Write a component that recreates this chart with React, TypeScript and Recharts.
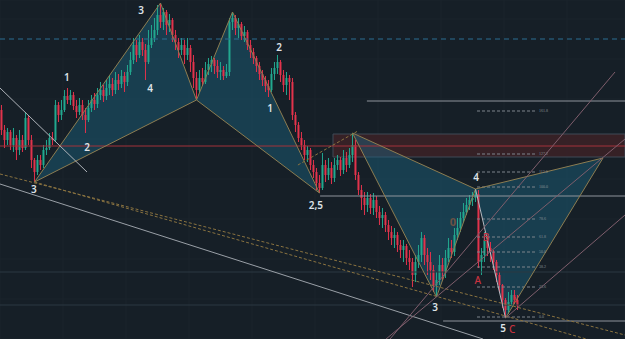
import React from "react";
import {
  ComposedChart, Bar, Area, Line, Scatter, XAxis, YAxis,
  ReferenceLine, ReferenceArea, CartesianGrid,
} from "recharts";

const BG = "#161f27";
const UP = "#22a88f";
const DOWN = "#e2334c";
const GOLD = "#8d7d51";
const FILL = "#1c6887";
const GREY = "#8e949c";
const DIM = "#2b3943";
const MAUVE = "#7f5e6c";
const XMAX = 625 / 3;

// candles: open = previous close
const firstOpen = 229;
const closes = [
  209, 199, 207, 194, 201, 189, 199, 191, 221, 199,
  179, 167, 179, 174, 189, 191, 201, 199, 234, 224,
  229, 243, 239, 244, 233, 227, 234, 224, 219, 231,
  239, 235, 244, 249, 243, 251, 255, 249, 259, 255,
  263, 257, 267, 279, 294, 284, 297, 289, 277, 294,
  301, 309, 324, 317, 327, 314, 319, 304, 297, 289,
  294, 284, 291, 277, 261, 249, 261, 257, 269, 275,
  279, 273, 267, 269, 263, 267, 317, 321, 311, 315,
  303, 307, 294, 287, 281, 273, 265, 259, 253, 249,
  265, 271, 277, 264, 254, 261, 257, 224, 214, 201,
  194, 184, 189, 174, 167, 156, 151, 174, 164, 171,
  161, 174, 179, 169, 181, 174, 184, 194, 164, 149,
  141, 134, 141, 131, 139, 127, 121, 124, 114, 107,
  101, 104, 94, 89, 93, 81, 77, 64, 77, 84,
  101, 84, 77, 69, 54, 59, 74, 67, 81, 91,
  87, 104, 111, 121, 127, 134, 139, 141, 145, 77,
  84, 99, 91, 87, 77, 64, 54, 39, 29, 37,
  44, 39, 33,
];
const highs = [
  234, 214, 211, 209, 211, 204, 209, 204, 227, 224,
  204, 181, 184, 184, 194, 199, 206, 207, 239, 237,
  239, 249, 251, 249, 247, 239, 241, 239, 231, 239,
  244, 246, 251, 257, 254, 259, 264, 261, 267, 265,
  269, 267, 274, 287, 301, 299, 304, 301, 295, 309,
  314, 321, 334, 336, 331, 329, 325, 321, 309, 301,
  301, 299, 301, 294, 284, 267, 269, 271, 277, 281,
  283, 281, 279, 277, 273, 275, 321, 327, 324, 321,
  317, 313, 309, 299, 291, 283, 277, 269, 263, 259,
  271, 277, 284, 279, 269, 267, 264, 261, 227, 217,
  207, 199, 193, 191, 179, 171, 164, 186, 179, 181,
  177, 181, 184, 182, 189, 187, 191, 206, 199, 167,
  154, 147, 147, 145, 146, 143, 133, 131, 127, 119,
  113, 111, 107, 99, 99, 95, 89, 81, 84, 94,
  107, 104, 91, 87, 74, 67, 84, 81, 89, 101,
  99, 111, 121, 127, 136, 141, 144, 147, 150, 149,
  91, 107, 103, 97, 89, 79, 67, 55, 41, 47,
  49, 49, 44,
];
const lows = [
  204, 191, 194, 189, 187, 179, 184, 187, 189, 194,
  171, 157, 164, 169, 171, 184, 189, 194, 197, 217,
  219, 227, 235, 234, 229, 221, 224, 219, 206, 217,
  227, 229, 231, 239, 237, 239, 244, 243, 245, 249,
  251, 247, 253, 264, 275, 277, 281, 283, 259, 275,
  291, 297, 304, 311, 309, 304, 307, 297, 289, 281,
  284, 275, 279, 267, 251, 239, 247, 253, 255, 264,
  267, 265, 261, 259, 259, 261, 263, 309, 304, 301,
  299, 297, 289, 281, 275, 267, 259, 253, 247, 242,
  247, 259, 265, 257, 247, 244, 239, 219, 207, 197,
  189, 179, 177, 169, 161, 149, 146, 149, 157, 159,
  155, 157, 169, 163, 165, 167, 171, 177, 159, 144,
  129, 124, 127, 125, 124, 121, 114, 111, 107, 99,
  94, 91, 87, 81, 77, 74, 69, 52, 57, 71,
  77, 74, 64, 59, 47, 42, 54, 59, 61, 77,
  81, 83, 99, 107, 117, 124, 129, 133, 137, 71,
  64, 77, 83, 77, 69, 57, 47, 31, 21, 25,
  33, 35, 29,
];

const candles = closes.map((c, i) => {
  const o = i === 0 ? firstOpen : closes[i - 1];
  return { x: i + 0.5, o, c, h: Math.max(highs[i], o, c), l: Math.min(lows[i], o, c) };
});

// harmonic patterns: X, A, B, C, D  as [bar, price]
const leftPattern = [[11.5, 157], [53.5, 336], [65.5, 239], [77.5, 327], [106.5, 146]];
const rightPattern = [[117.5, 206], [145.5, 42], [158.5, 150], [168.5, 21], [201, 181]];

// drawn trend lines
const diagWhite = [[0, 251], [29, 167]];
const diagWhiteLong = [[0, 155], [161, 0]];
const dashA = [[0, 165], [XMAX, 4]];
const dashB = [[11.5, 157], [XMAX, -11]];
const dashShort = [[99.3, 174], [119.3, 208]];
const channel1 = [[128.7, 0], [XMAX, 200]];
const channel2 = [[130, 0], [205, 267]];
const channel3 = [[168.5, 21], [XMAX, 124]];

// horizontal levels
const blueLevel = 300;
const redLevel = 193;
const dimLevels = [67, 34];
const greyLevels = [[238, 122.3], [143, 106.7], [18, 147.7]];
const zone = { x1: 111, y1: 182, y2: 205 };

const fibLevels = [228, 185, 167, 152, 120, 102, 87, 72, 52, 22];
const fibNames = ["161.8", "127.2", "113.0", "100.0", "78.6", "61.8", "50.0", "38.2", "23.6", "0.0"];
const fibFrom = 159;
const fibTo = 179;

const whiteLabels = [
  { x: 22.3, y: 262, t: "1" }, { x: 29, y: 192, t: "2" }, { x: 11.3, y: 150, t: "3" },
  { x: 47, y: 329, t: "3" }, { x: 50, y: 251, t: "4" }, { x: 93, y: 292, t: "2" },
  { x: 90, y: 231, t: "1" }, { x: 105.3, y: 134, t: "2,5" }, { x: 158.7, y: 162, t: "4" },
  { x: 145, y: 32, t: "3" }, { x: 167.7, y: 11, t: "5" },
];
const redLabels = [
  { x: 170.7, y: 10, t: "C" }, { x: 159.3, y: 59, t: "A" }, { x: 162, y: 102, t: "B" },
];
const smallRedLabels = [{ x: 171.7, y: 39, t: "A" }];
const brownLabels = [{ x: 151, y: 118, t: "0" }];

const xGrid = [21, 42, 63, 84, 105, 126, 147, 168, 189];
const yGrid = [40, 80, 120, 160, 200, 240, 280, 320];

const seg = (p: number[][]) => p.map(([x, y]) => ({ x, y }));

function triangle(pts: number[][]) {
  const [p0, p1, p2] = [...pts].sort((a, b) => a[0] - b[0]);
  const t = (p1[0] - p0[0]) / (p2[0] - p0[0]);
  const edge = p0[1] + t * (p2[1] - p0[1]);
  return [
    { x: p0[0], r: [p0[1], p0[1]] },
    { x: p1[0], r: [Math.min(p1[1], edge), Math.max(p1[1], edge)] },
    { x: p2[0], r: [p2[1], p2[1]] },
  ];
}

function Candle(props: any) {
  const { x, y, width, height, payload } = props;
  if (x == null || !payload) return null;
  const top = Math.min(y, y + height);
  const h = Math.abs(height);
  const range = payload.h - payload.l || 1;
  const k = h / range;
  const bTop = top + (payload.h - Math.max(payload.o, payload.c)) * k;
  const bBot = top + (payload.h - Math.min(payload.o, payload.c)) * k;
  const color = payload.c >= payload.o ? UP : DOWN;
  const cx = x + width / 2;
  return (
    <g>
      <line x1={cx} x2={cx} y1={top} y2={top + h} stroke={color} strokeWidth={1} />
      <rect x={cx - 1} y={bTop} width={2} height={Math.max(1, bBot - bTop)} fill={color} />
    </g>
  );
}

const textShape = (fill: string, size: number, weight = 600) => (p: any) => (
  <text x={p.cx} y={p.cy} textAnchor="middle" dominantBaseline="central" fill={fill}
    fontSize={size} fontWeight={weight} fontFamily="Noto Sans, sans-serif">
    {p.payload.t}
  </text>
);

function patternLines(p: number[][], key: string, bcColor: string) {
  const [X, A, B, C, D] = p;
  const edges: [number[][], string][] = [
    [[X, A], GOLD], [[A, B], GOLD], [[X, B], GOLD],
    [[B, C], bcColor], [[C, D], GOLD], [[B, D], GOLD],
  ];
  return edges.map(([e, col], i) => (
    <Line key={key + i} data={seg(e)} dataKey="y" type="linear" stroke={col} strokeWidth={1}
      dot={false} activeDot={false} isAnimationActive={false} />
  ));
}

export default function App() {
  const [lX, lA, lB, lC, lD] = leftPattern;
  const [rX, rA, rB, rC, rD] = rightPattern;
  return (
    <div style={{ position: "absolute", left: 0, top: 0, width: 625, height: 339, background: BG }}>
      <ComposedChart width={625} height={339} data={candles} margin={{ top: 0, right: 0, bottom: 0, left: 0 }}>
        <CartesianGrid stroke="#1a242c" />
        <XAxis dataKey="x" type="number" domain={[0, XMAX]} ticks={xGrid} hide allowDataOverflow />
        <YAxis type="number" domain={[0, 339]} ticks={yGrid} hide allowDataOverflow />

        <ReferenceArea x1={zone.x1} x2={XMAX} y1={zone.y1} y2={zone.y2} fill="#3e2227" fillOpacity={0.8}
          stroke="#3f4b57" strokeWidth={1} />
        {dimLevels.map((v) => <ReferenceLine key={"d" + v} y={v} stroke={DIM} />)}
        <ReferenceLine y={blueLevel} stroke="#2b6f93" strokeDasharray="5 4" />
        <ReferenceLine y={redLevel} stroke="#a3333a" />
        {greyLevels.map(([v, from]) => (
          <ReferenceLine key={"g" + v} segment={[{ x: from, y: v }, { x: XMAX, y: v }]} stroke={GREY} />
        ))}
        {fibLevels.map((v, i) => (
          <ReferenceLine key={"f" + v} segment={[{ x: fibFrom, y: v }, { x: fibTo, y: v }]}
            stroke="#7d848c" strokeDasharray="3 2"
            label={{ value: fibNames[i], position: "right", fill: "#8a9098", fontSize: 4, offset: 2 }} />
        ))}

        <Area data={triangle([lX, lA, lB])} dataKey="r" type="linear" stroke="none" fill={FILL} fillOpacity={0.42} isAnimationActive={false} />
        <Area data={triangle([lB, lC, lD])} dataKey="r" type="linear" stroke="none" fill={FILL} fillOpacity={0.42} isAnimationActive={false} />
        <Area data={triangle([rX, rA, rB])} dataKey="r" type="linear" stroke="none" fill={FILL} fillOpacity={0.42} isAnimationActive={false} />
        <Area data={triangle([rB, rC, rD])} dataKey="r" type="linear" stroke="none" fill={FILL} fillOpacity={0.42} isAnimationActive={false} />

        <Bar dataKey={(d: any) => [d.l, d.h]} barSize={2} shape={(p: any) => <Candle {...p} />} isAnimationActive={false} />

        {patternLines(leftPattern, "lp", GOLD)}
        {patternLines(rightPattern, "rp", "#b4b9c0")}
        <Line data={seg(diagWhite)} dataKey="y" stroke="#aeb3b9" dot={false} activeDot={false} isAnimationActive={false} />
        <Line data={seg(diagWhiteLong)} dataKey="y" stroke="#9aa0a7" dot={false} activeDot={false} isAnimationActive={false} />
        <Line data={seg(dashA)} dataKey="y" stroke="#8a7340" strokeDasharray="3 2" dot={false} activeDot={false} isAnimationActive={false} />
        <Line data={seg(dashB)} dataKey="y" stroke="#8a7340" strokeDasharray="3 2" dot={false} activeDot={false} isAnimationActive={false} />
        <Line data={seg(dashShort)} dataKey="y" stroke="#8a7340" strokeDasharray="3 2" dot={false} activeDot={false} isAnimationActive={false} />
        <Line data={seg(channel1)} dataKey="y" stroke={MAUVE} dot={false} activeDot={false} isAnimationActive={false} />
        <Line data={seg(channel2)} dataKey="y" stroke={MAUVE} dot={false} activeDot={false} isAnimationActive={false} />
        <Line data={seg(channel3)} dataKey="y" stroke={MAUVE} dot={false} activeDot={false} isAnimationActive={false} />

        <Scatter data={whiteLabels} dataKey="y" shape={textShape("#dfe3e8", 10)} isAnimationActive={false} />
        <Scatter data={redLabels} dataKey="y" shape={textShape("#c8323f", 10, 500)} isAnimationActive={false} />
        <Scatter data={smallRedLabels} dataKey="y" shape={textShape("#c8323f", 8, 500)} isAnimationActive={false} />
        <Scatter data={brownLabels} dataKey="y" shape={textShape("#6e5244", 11, 700)} isAnimationActive={false} />
      </ComposedChart>
    </div>
  );
}
